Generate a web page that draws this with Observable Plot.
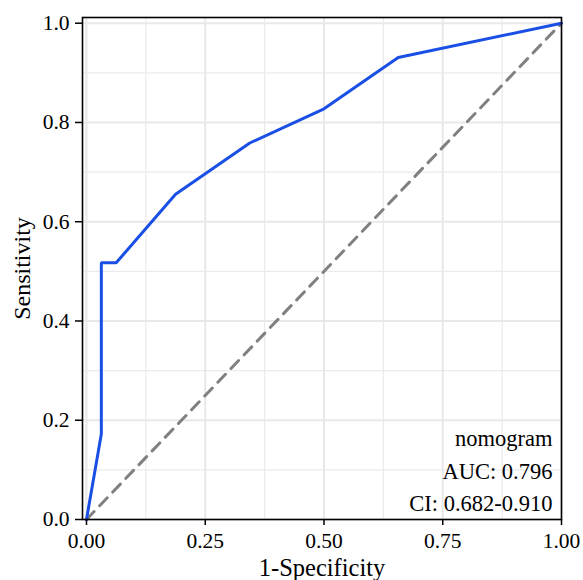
<!DOCTYPE html>
<html>
<head>
<meta charset="utf-8">
<script src="https://cdn.jsdelivr.net/npm/d3@7"></script>
<script src="https://cdn.jsdelivr.net/npm/@observablehq/plot@0.6"></script>
<style>
  html, body { margin: 0; padding: 0; background: #fff; }
  #chart svg { display: block; }
</style>
</head>
<body>
<div id="chart"></div>
<script>
// ROC curve points (1-Specificity, Sensitivity)
const fpr = [0, 0.03125, 0.03125, 0.0625, 0.1875, 0.34375, 0.5, 0.65625, 1];
const tpr = [0, 0.1724, 0.5172, 0.5172, 0.6552, 0.7586, 0.8276, 0.9310, 1];
const refX = [0, 1];
const refY = [0, 1];
const xTicks = [0, 0.25, 0.5, 0.75, 1];
const yTicks = [0, 0.2, 0.4, 0.6, 0.8, 1];
const xMinor = [0.125, 0.375, 0.625, 0.875];
const yMinor = [0.1, 0.3, 0.5, 0.7, 0.9];
const labels = ["nomogram", "AUC: 0.796", "CI: 0.682-0.910"];
const labelY = [0.1636, 0.0967, 0.0326];

const roc = fpr.map((x, i) => ({x, y: tpr[i]}));
const diag = refX.map((x, i) => ({x, y: refY[i]}));
const notes = labels.map((t, i) => ({t, y: labelY[i]}));
const font = "'Liberation Serif', 'Times New Roman', serif";

const chart = Plot.plot({
  width: 583,
  height: 580,
  marginLeft: 82,
  marginRight: 22,
  marginTop: 17,
  marginBottom: 61,
  style: {fontFamily: font, fontSize: "21.5px", color: "#000", background: "#fff"},
  x: {domain: [-0.0084, 1]},
  y: {domain: [0, 1.0115]},
  marks: [
    Plot.gridX(xMinor, {stroke: "#ebebeb", strokeOpacity: 1, strokeWidth: 1.2}),
    Plot.gridY(yMinor, {stroke: "#ebebeb", strokeOpacity: 1, strokeWidth: 1.2}),
    Plot.gridX(xTicks, {stroke: "#e8e8e8", strokeOpacity: 1, strokeWidth: 2}),
    Plot.gridY(yTicks, {stroke: "#e8e8e8", strokeOpacity: 1, strokeWidth: 2}),
    Plot.line(diag, {x: "x", y: "y", stroke: "#808080", strokeWidth: 3, strokeDasharray: "11,8"}),
    Plot.line(roc, {x: "x", y: "y", stroke: "#1a4fe6", strokeWidth: 3, strokeLinejoin: "miter"}),
    Plot.frame({stroke: "#000", strokeWidth: 1.6}),
    Plot.axisX(xTicks, {tickFormat: d3.format(".2f"), tickSize: 6, tickPadding: 7, label: null, stroke: "#000", strokeWidth: 1.5}),
    Plot.axisY(yTicks, {tickFormat: d3.format(".1f"), tickSize: 7, tickPadding: 6, label: null, stroke: "#000", strokeWidth: 1.5}),
    Plot.text(["1-Specificity"], {frameAnchor: "bottom", lineAnchor: "middle", textAnchor: "middle", dy: 48.5, fontSize: 24.5, fill: "#000"}),
    Plot.text(["Sensitivity"], {frameAnchor: "left", lineAnchor: "middle", textAnchor: "middle", dx: -60, rotate: -90, fontSize: 24, fill: "#000"}),
    Plot.text(notes, {x: () => 0.981, y: "y", text: "t", textAnchor: "end", lineAnchor: "middle", fontSize: 22.5, fill: "#000"})
  ]
});
document.getElementById("chart").appendChild(chart);
</script>
</body>
</html>
